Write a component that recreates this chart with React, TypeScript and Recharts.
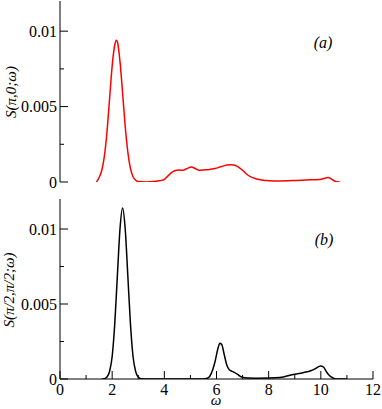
import { LineChart, Line, XAxis, YAxis } from "recharts";

// omega grid and spectral weight, panel (a)
const omegaA = [1.4, 1.5, 1.6, 1.7, 1.8, 1.9, 2.0, 2.1, 2.16, 2.2, 2.3, 2.4, 2.5, 2.6, 2.7, 2.8, 2.9, 3.0, 3.3, 3.6, 3.8, 3.96, 4.05, 4.15, 4.3, 4.47, 4.6, 4.72, 4.85, 5.04, 5.2, 5.34, 5.5, 5.68, 5.94, 6.2, 6.4, 6.58, 6.7, 6.83, 7.0, 7.15, 7.3, 7.54, 7.8, 8.0, 8.43, 9.0, 9.58, 9.96, 10.15, 10.28, 10.4, 10.54, 10.72];
const sA = [0, 0.0003, 0.00076, 0.0017, 0.0033, 0.0055, 0.0077, 0.0091, 0.0094, 0.0093, 0.008, 0.0059, 0.0037, 0.002, 0.0009, 0.00035, 0.00012, 0.00003, 0, 0.00003, 0.00008, 0.00013, 0.00025, 0.00042, 0.00065, 0.00078, 0.00079, 0.00078, 0.00088, 0.001, 0.00088, 0.00078, 0.0008, 0.00082, 0.00089, 0.00103, 0.00112, 0.00115, 0.00111, 0.001, 0.00078, 0.00053, 0.00035, 0.0002, 0.00011, 0.00009, 0.00007, 0.0001, 0.00015, 0.00016, 0.00025, 0.0003, 0.0002, 0.00005, 0];

// panel (b)
const omegaB = [1.6, 1.7, 1.8, 1.9, 2.0, 2.1, 2.2, 2.3, 2.4, 2.5, 2.6, 2.7, 2.8, 2.9, 3.0, 3.1, 3.3, 5.5, 5.62, 5.75, 5.85, 5.95, 6.05, 6.13, 6.2, 6.3, 6.4, 6.5, 6.58, 6.7, 6.85, 6.96, 7.2, 7.5, 8.0, 8.43, 8.94, 9.32, 9.64, 9.8, 9.99, 10.1, 10.22, 10.32, 10.41, 10.54, 10.7, 11.0];
const sB = [0, 0.00002, 0.00013, 0.0005, 0.0015, 0.0037, 0.0069, 0.01, 0.0114, 0.01, 0.0069, 0.0037, 0.0015, 0.0005, 0.00013, 0.00002, 0, 0, 0.00003, 0.0002, 0.0006, 0.0012, 0.002, 0.00238, 0.0023, 0.0016, 0.0009, 0.0006, 0.00053, 0.00042, 0.00025, 0.00013, 0.00006, 0.00005, 0.00006, 0.0001, 0.0003, 0.00042, 0.00057, 0.0007, 0.00087, 0.0008, 0.00047, 0.00025, 0.00013, 0.00002, 0, 0];

const xTicks = [0, 1, 2, 3, 4, 5, 6, 7, 8, 9, 10, 11, 12];
const yTicks = [0, 0.0025, 0.005, 0.0075, 0.01];
const yLabels: Record<string, string> = { "0": "0", "0.005": "0.005", "0.01": "0.01" };

const dataA = omegaA.map((w, i) => ({ w, s: sA[i] }));
const dataB = omegaB.map((w, i) => ({ w, s: sB[i] }));

const FONT = "'Liberation Serif', 'DejaVu Serif', serif";

function XTick(props: any) {
  const { x, y, payload, side, labels } = props;
  const v = payload.value;
  const major = v % 2 === 0;
  const len = major ? 8 : 4;
  const dir = side === "bottom" ? -1 : 1;
  return (
    <g>
      <line x1={x} x2={x} y1={y} y2={y + dir * len} stroke="#000" strokeWidth={1} />
      {labels && major && (
        <text x={x} y={y + 16} textAnchor="middle" style={{ fontFamily: FONT }} fontSize={16} fill="#000">
          {v}
        </text>
      )}
    </g>
  );
}

function YTick(props: any) {
  const { x, y, payload, side, labels } = props;
  const v = payload.value;
  const key = String(v);
  const major = key in yLabels;
  const len = major ? 8 : 4;
  const dir = side === "left" ? 1 : -1;
  return (
    <g>
      <line x1={x} x2={x + dir * len} y1={y} y2={y} stroke="#000" strokeWidth={1} />
      {labels && major && (
        <text x={x - 3} y={y + 5.5} textAnchor="end" style={{ fontFamily: FONT }} fontSize={16} fill="#000">
          {yLabels[key]}
        </text>
      )}
    </g>
  );
}

function Panel(props: { data: any[]; color: string; height: number; margin: any; xLabels: boolean; bottomH: number }) {
  const { data, color, height, margin, xLabels, bottomH } = props;
  return (
    <LineChart width={382} height={height} margin={margin} data={data}>
      <XAxis xAxisId="b" dataKey="w" type="number" domain={[0, 12]} ticks={xTicks} interval={0}
        height={bottomH} tickSize={0} tickMargin={0} tickLine={false} axisLine={{ stroke: "#000" }}
        tick={(p: any) => <XTick {...p} side="bottom" labels={xLabels} />} />
      <XAxis xAxisId="t" orientation="top" type="number" domain={[0, 12]} allowDataOverflow ticks={xTicks} interval={0}
        height={0} tickSize={0} tickMargin={0} tickLine={false} axisLine={{ stroke: "#000" }}
        tick={(p: any) => <XTick {...p} side="top" labels={false} />} />
      <YAxis yAxisId="l" type="number" domain={[0, 0.012]} ticks={yTicks} interval={0} allowDataOverflow
        width={60} tickSize={0} tickMargin={0} tickLine={false} axisLine={{ stroke: "#000" }}
        tick={(p: any) => <YTick {...p} side="left" labels={true} />} />
      <YAxis yAxisId="r" orientation="right" type="number" domain={[0, 0.012]} ticks={yTicks} interval={0} allowDataOverflow
        width={0} tickSize={0} tickMargin={0} tickLine={false} axisLine={{ stroke: "#000" }}
        tick={(p: any) => <YTick {...p} side="right" labels={false} />} />
      <Line xAxisId="b" yAxisId="l" type="monotone" dataKey="s" stroke={color} strokeWidth={1.5}
        dot={false} isAnimationActive={false} />
    </LineChart>
  );
}

const txt: React.CSSProperties = {
  position: "absolute",
  fontFamily: FONT,
  fontStyle: "italic",
  lineHeight: 1,
  whiteSpace: "nowrap",
  color: "#000",
};

export default function App() {
  return (
    <div style={{ position: "absolute", left: 0, top: 0, width: 382, height: 409, background: "#fff" }}>
      <div style={{ position: "absolute", left: 0, top: 0 }}>
        <Panel data={dataA} color="#ff0000" height={190} margin={{ top: 1, right: 9, left: 0, bottom: 8 }} xLabels={false} bottomH={0} />
      </div>
      <div style={{ position: "absolute", left: 0, top: 190 }}>
        <Panel data={dataB} color="#000000" height={219} margin={{ top: 9, right: 9, left: 0, bottom: 0 }} xLabels={true} bottomH={30} />
      </div>
      <div style={{ ...txt, fontSize: 15, left: 11, top: 92, transform: "translate(-50%,-50%) rotate(-90deg)" }}>S(π,0;ω)</div>
      <div style={{ ...txt, fontSize: 15, left: 9, top: 290, transform: "translate(-50%,-50%) rotate(-90deg)" }}>S(π/2,π/2;ω)</div>
      <div style={{ ...txt, fontSize: 16, left: 323, top: 43, transform: "translate(-50%,-50%)" }}>(a)</div>
      <div style={{ ...txt, fontSize: 16, left: 324, top: 240, transform: "translate(-50%,-50%)" }}>(b)</div>
      <div style={{ ...txt, fontSize: 15, left: 216, top: 400, transform: "translate(-50%,-50%)" }}>ω</div>
    </div>
  );
}
